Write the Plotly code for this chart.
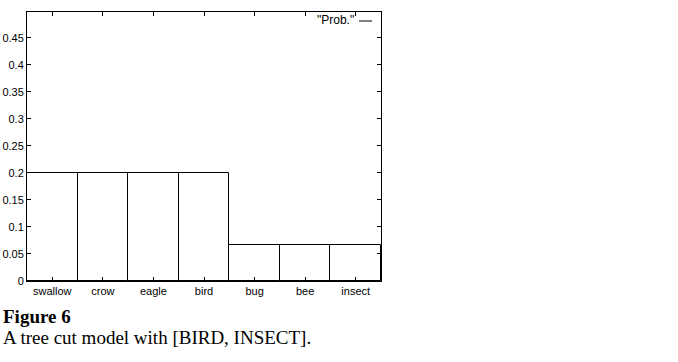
import plotly.graph_objects as go

categories = ["swallow", "crow", "eagle", "bird", "bug", "bee", "insect"]
probs = [0.2, 0.2, 0.2, 0.2, 0.0667, 0.0667, 0.0667]
y_ticks = [0, 0.05, 0.1, 0.15, 0.2, 0.25, 0.3, 0.35, 0.4, 0.45]
y_tick_labels = ["0", "0.05", "0.1", "0.15", "0.2", "0.25", "0.3", "0.35", "0.4", "0.45"]

W, H = 678, 362
L, R, T, B = 27, 297, 12, 81
pw = W - L - R
ph = H - T - B

fig = go.Figure()
fig.add_trace(go.Bar(
    x=categories, y=probs, width=1.0,
    marker=dict(color="white", line=dict(color="black", width=1)),
    showlegend=False,
))

axis_font = dict(family="Liberation Sans, Arial, sans-serif", size=11, color="black")
fig.update_layout(
    width=W, height=H,
    margin=dict(l=L, r=R, t=T, b=B, pad=0, autoexpand=False),
    plot_bgcolor="white", paper_bgcolor="white",
    bargap=0,
    xaxis=dict(range=[-0.5, 6.5], showline=True, linecolor="black", linewidth=1,
               mirror="ticks", ticks="inside", ticklen=4, tickcolor="black",
               showgrid=False, tickfont=axis_font, zeroline=False, fixedrange=True,
               automargin=False),
    yaxis=dict(range=[0, 0.498], showline=True, linecolor="black", linewidth=1,
               mirror="ticks", ticks="inside", ticklen=4, tickcolor="black",
               tickvals=y_ticks, ticktext=y_tick_labels,
               showgrid=False, tickfont=axis_font, zeroline=False, fixedrange=True,
               automargin=False),
)

# legend-like key
fig.add_annotation(x=(356 - L) / pw, y=1 - (20 - T) / ph, xref="paper", yref="paper",
                   text='"Prob."', showarrow=False, xanchor="right", yanchor="middle",
                   font=dict(family="Liberation Sans, Arial, sans-serif", size=12, color="black"))
fig.add_shape(type="line", xref="paper", yref="paper",
              x0=(359 - L) / pw, x1=(372 - L) / pw,
              y0=1 - (21 - T) / ph, y1=1 - (21 - T) / ph,
              line=dict(color="black", width=1))

# caption
fig.add_annotation(x=(1 - L) / pw, y=1 - (316 - T) / ph, xref="paper", yref="paper",
                   text="<b>Figure 6</b>", showarrow=False, xanchor="left", yanchor="middle",
                   font=dict(family="Liberation Serif, Times New Roman, serif", size=19, color="black"))
fig.add_annotation(x=(1 - L) / pw, y=1 - (337 - T) / ph, xref="paper", yref="paper",
                   text="A tree cut model with [BIRD, INSECT].", showarrow=False,
                   xanchor="left", yanchor="middle",
                   font=dict(family="Liberation Serif, Times New Roman, serif", size=19, color="black"))

fig.write_html("out.html")
